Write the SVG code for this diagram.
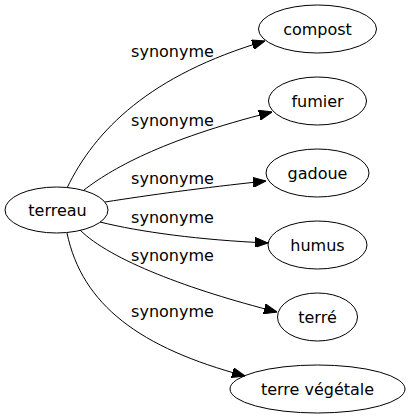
<svg xmlns="http://www.w3.org/2000/svg" width="409" height="419" viewBox="0 0 409 419">
<style>
.node ellipse{fill:none;stroke:#000;stroke-width:1}
text{font-family:"DejaVu Sans","Noto Sans",sans-serif;font-size:16px;fill:#000;text-anchor:middle}
.edge path{fill:none;stroke:#000;stroke-width:1}
</style>
<defs>
<marker id="arr" viewBox="0 0 13 10" refX="13" refY="5" markerWidth="13" markerHeight="10" markerUnits="userSpaceOnUse" orient="auto">
<path d="M0,0 L13,5 L0,10 z" fill="#000" stroke="#000" stroke-width="1"/>
</marker>
</defs>
<rect width="409" height="419" fill="#fff"/>
<g id="edges" class="edge">
<path d="M67,188 C95,130 150,75 265,41" marker-end="url(#arr)"/>
<path d="M84,190 C110,170 160,140 272,112" marker-end="url(#arr)"/>
<path d="M105,202 C150,195 200,188 266,181" marker-end="url(#arr)"/>
<path d="M100,222 C140,232 200,240 268,243" marker-end="url(#arr)"/>
<path d="M80,230 C110,260 190,290 277,312" marker-end="url(#arr)"/>
<path d="M67,233 C82,305 140,348 245,376" marker-end="url(#arr)"/>
<text x="172.5" y="57">synonyme</text>
<text x="172.5" y="126">synonyme</text>
<text x="172.5" y="184">synonyme</text>
<text x="172.5" y="223">synonyme</text>
<text x="172.5" y="261">synonyme</text>
<text x="172.5" y="317">synonyme</text>
</g>
<g id="terreau" class="node"><ellipse cx="56.5" cy="210" rx="51.5" ry="23"/><text x="57.5" y="215.5">terreau</text></g>
<g id="compost" class="node"><ellipse cx="317.5" cy="29" rx="59" ry="24"/><text x="317.5" y="34.5">compost</text></g>
<g id="fumier" class="node"><ellipse cx="317.5" cy="101" rx="49" ry="24"/><text x="317.5" y="106.5">fumier</text></g>
<g id="gadoue" class="node"><ellipse cx="317.5" cy="173" rx="51.5" ry="24"/><text x="317.5" y="178.5">gadoue</text></g>
<g id="humus" class="node"><ellipse cx="317.5" cy="245" rx="49.5" ry="24"/><text x="317.5" y="250.5">humus</text></g>
<g id="terre" class="node"><ellipse cx="317.5" cy="317" rx="40" ry="24"/><text x="317.5" y="322.5">terré</text></g>
<g id="terre_vegetale" class="node"><ellipse cx="317.5" cy="389" rx="87.5" ry="24"/><text x="317.5" y="394.5">terre végétale</text></g>
</svg>
